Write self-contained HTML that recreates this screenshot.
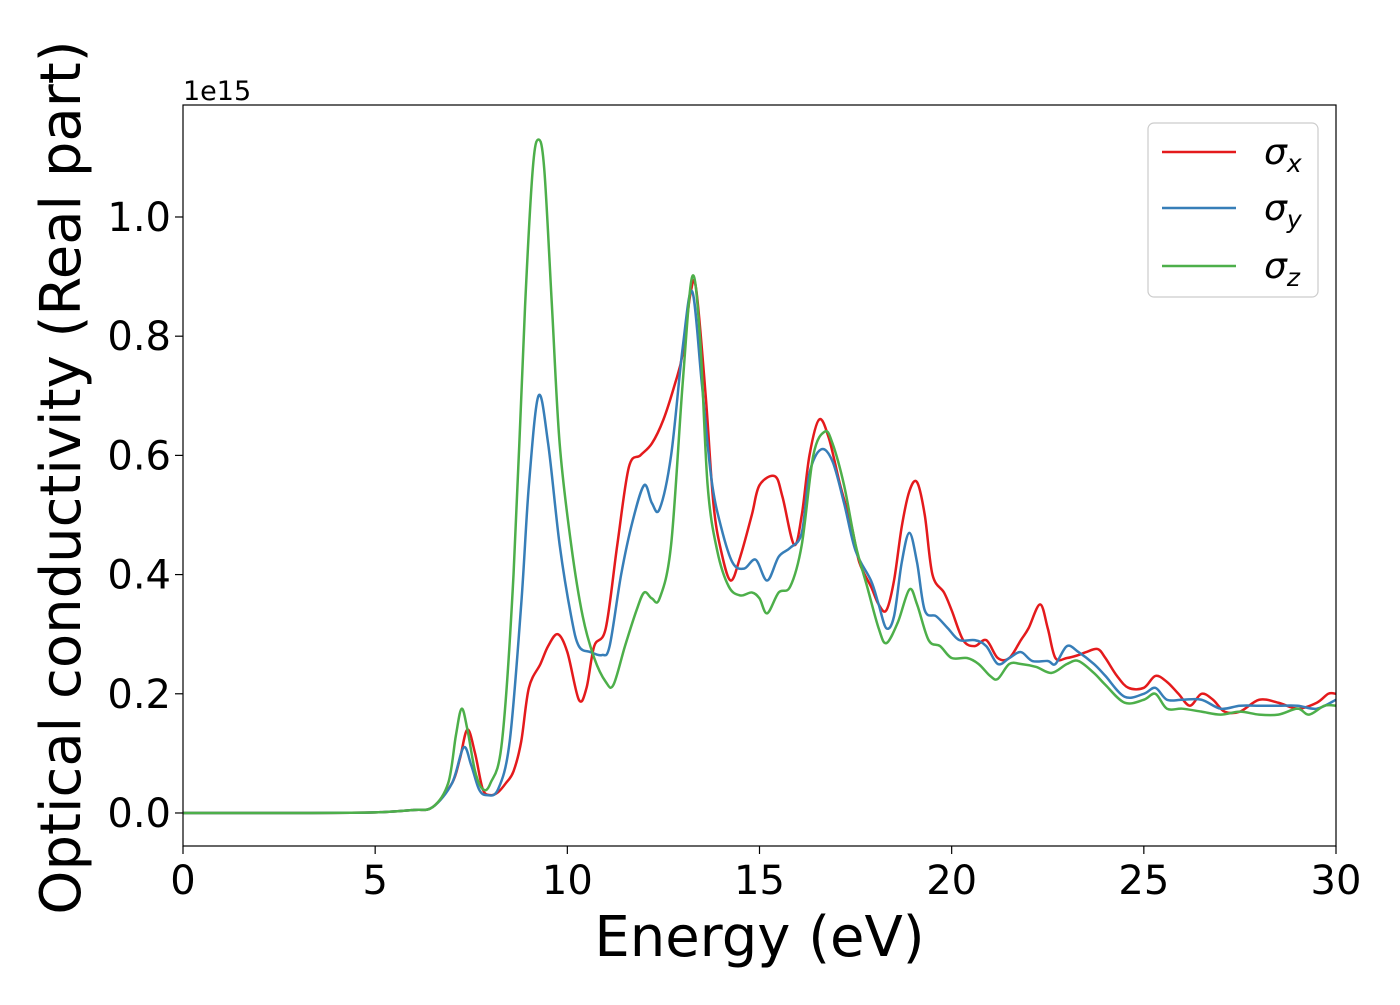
<!DOCTYPE html>
<html><head><meta charset="utf-8"><style>
body{margin:0;background:#fff;}
svg text{font-family:"DejaVu Sans","Liberation Sans",sans-serif;fill:#000;}
</style></head><body>
<svg id="chart" width="1400" height="1000" xmlns="http://www.w3.org/2000/svg">
<rect width="1400" height="1000" fill="#fff"/>
<g id="plot"></g>
</svg>
<script>
const xTicks=[0,5,10,15,20,25,30];
const yTicks=[0,0.2,0.4,0.6,0.8,1.0];
const yTickLabels=["0.0","0.2","0.4","0.6","0.8","1.0"];
const seriesNames=["σ","σ","σ"];
const sigmaX=[[0,0],[3,0],[5,0.001],[6,0.005],[6.5,0.01],[7.0,0.05],[7.2,0.09],[7.4,0.14],[7.6,0.10],[7.8,0.04],[8.0,0.03],[8.2,0.035],[8.4,0.05],[8.6,0.07],[8.8,0.12],[9.0,0.21],[9.3,0.25],[9.5,0.28],[9.75,0.30],[10.0,0.27],[10.3,0.19],[10.5,0.21],[10.7,0.28],[11.0,0.31],[11.3,0.45],[11.6,0.58],[11.9,0.60],[12.2,0.62],[12.5,0.66],[12.8,0.72],[13.0,0.77],[13.2,0.87],[13.35,0.88],[13.6,0.70],[13.8,0.52],[14.0,0.44],[14.25,0.39],[14.5,0.43],[14.8,0.50],[15.0,0.55],[15.4,0.565],[15.6,0.53],[15.9,0.45],[16.1,0.50],[16.3,0.60],[16.55,0.66],[16.8,0.63],[17.1,0.55],[17.4,0.48],[17.6,0.42],[17.9,0.38],[18.1,0.35],[18.3,0.34],[18.5,0.39],[18.7,0.48],[18.9,0.54],[19.1,0.555],[19.3,0.50],[19.5,0.40],[19.8,0.37],[20.0,0.34],[20.3,0.29],[20.6,0.28],[20.9,0.29],[21.2,0.26],[21.5,0.26],[21.8,0.29],[22.0,0.31],[22.3,0.35],[22.5,0.31],[22.7,0.26],[23.0,0.26],[23.3,0.265],[23.5,0.27],[23.8,0.275],[24.0,0.26],[24.3,0.23],[24.6,0.21],[25.0,0.21],[25.3,0.23],[25.6,0.22],[25.9,0.2],[26.2,0.18],[26.5,0.2],[26.8,0.19],[27.1,0.17],[27.5,0.17],[28.0,0.19],[28.5,0.185],[29.0,0.175],[29.5,0.185],[29.8,0.2],[30,0.2]];
const sigmaY=[[0,0],[3,0],[5,0.001],[6,0.005],[6.5,0.01],[7.0,0.05],[7.3,0.11],[7.5,0.08],[7.7,0.04],[7.9,0.03],[8.2,0.04],[8.5,0.12],[8.8,0.35],[9.0,0.55],[9.25,0.70],[9.5,0.62],[9.8,0.45],[10.1,0.33],[10.3,0.28],[10.6,0.27],[10.9,0.265],[11.1,0.28],[11.4,0.40],[11.7,0.49],[12.0,0.55],[12.2,0.52],[12.4,0.51],[12.7,0.60],[13.0,0.78],[13.25,0.875],[13.5,0.72],[13.75,0.56],[14.0,0.48],[14.3,0.42],[14.6,0.41],[14.9,0.425],[15.2,0.39],[15.5,0.43],[15.8,0.445],[16.1,0.47],[16.3,0.57],[16.6,0.61],[16.9,0.59],[17.2,0.52],[17.5,0.44],[17.9,0.39],[18.1,0.35],[18.3,0.31],[18.5,0.33],[18.7,0.42],[18.9,0.47],[19.1,0.42],[19.3,0.34],[19.6,0.33],[19.9,0.31],[20.2,0.29],[20.6,0.29],[20.9,0.28],[21.2,0.25],[21.5,0.26],[21.8,0.27],[22.1,0.255],[22.5,0.255],[22.7,0.25],[23.0,0.28],[23.3,0.27],[23.7,0.25],[24.0,0.23],[24.5,0.195],[25.0,0.2],[25.3,0.21],[25.6,0.19],[26.0,0.19],[26.5,0.19],[27.0,0.175],[27.5,0.18],[28.0,0.18],[28.5,0.18],[29.0,0.18],[29.5,0.175],[30,0.19]];
const sigmaZ=[[0,0],[3,0],[5,0.001],[6,0.005],[6.5,0.01],[6.9,0.05],[7.1,0.13],[7.25,0.175],[7.4,0.14],[7.6,0.07],[7.8,0.04],[8.0,0.05],[8.3,0.12],[8.6,0.40],[8.9,0.85],[9.1,1.08],[9.25,1.13],[9.4,1.08],[9.6,0.85],[9.8,0.62],[10.1,0.45],[10.4,0.33],[10.7,0.26],[11.0,0.22],[11.2,0.215],[11.5,0.28],[11.8,0.34],[12.0,0.37],[12.2,0.36],[12.4,0.36],[12.7,0.45],[13.0,0.72],[13.25,0.90],[13.45,0.80],[13.65,0.55],[13.9,0.44],[14.2,0.38],[14.5,0.365],[14.8,0.37],[15.0,0.36],[15.2,0.335],[15.5,0.37],[15.8,0.38],[16.1,0.45],[16.4,0.60],[16.7,0.64],[16.9,0.62],[17.2,0.55],[17.5,0.45],[17.8,0.38],[18.1,0.31],[18.3,0.285],[18.6,0.32],[18.9,0.375],[19.1,0.35],[19.4,0.29],[19.7,0.28],[20.0,0.26],[20.4,0.26],[20.7,0.25],[21.0,0.23],[21.2,0.225],[21.5,0.25],[21.8,0.25],[22.2,0.245],[22.6,0.235],[23.0,0.25],[23.3,0.255],[23.7,0.235],[24.0,0.215],[24.5,0.185],[25.0,0.19],[25.3,0.2],[25.6,0.175],[26.0,0.175],[26.5,0.17],[27.0,0.165],[27.5,0.17],[28.0,0.165],[28.5,0.165],[29.0,0.175],[29.3,0.165],[29.7,0.18],[30,0.18]];
const allSeries=[sigmaX,sigmaY,sigmaZ];
const colors=["#e41a1c","#377eb8","#4daf4a"];
const subs=["x","y","z"];

const L=183,R=1336,T=105,B=846;
const xmin=0,xmax=30,ymin=-0.0554,ymax=1.1879;
const sx=v=>L+(v-xmin)/(xmax-xmin)*(R-L);
const sy=v=>B-(v-ymin)/(ymax-ymin)*(B-T);
const NS="http://www.w3.org/2000/svg";
const g=document.getElementById('plot');
function mk(tag,attrs,txt){const e=document.createElementNS(NS,tag);for(const k in attrs)e.setAttribute(k,attrs[k]);if(txt!==undefined)e.textContent=txt;g.appendChild(e);return e;}
function pathFor(pts){
  const p=pts.map(d=>[sx(d[0]),sy(d[1])]);
  let s="M"+p[0][0]+","+p[0][1];
  for(let i=0;i<p.length-1;i++){
    const p0=p[Math.max(0,i-1)],p1=p[i],p2=p[i+1],p3=p[Math.min(p.length-1,i+2)];
    const c1=[p1[0]+(p2[0]-p0[0])/6,p1[1]+(p2[1]-p0[1])/6];
    const c2=[p2[0]-(p3[0]-p1[0])/6,p2[1]-(p3[1]-p1[1])/6];
    s+=" C"+c1[0]+","+c1[1]+" "+c2[0]+","+c2[1]+" "+p2[0]+","+p2[1];
  }
  return s;
}
const clip=mk('clipPath',{id:'pc'});
const cr=document.createElementNS(NS,'rect');
cr.setAttribute('x',L);cr.setAttribute('y',T);cr.setAttribute('width',R-L);cr.setAttribute('height',B-T);
clip.appendChild(cr);
allSeries.forEach((s,i)=>{
  const e=mk('path',{d:pathFor(s),fill:'none',stroke:colors[i],'stroke-width':2.5,'clip-path':'url(#pc)'});
  
  
});
const fr=mk('rect',{x:L,y:T,width:R-L,height:B-T,fill:'none',stroke:'#000','stroke-width':1.2});


xTicks.forEach(v=>{
  mk('line',{x1:sx(v),x2:sx(v),y1:B,y2:B+8,stroke:'#000','stroke-width':1.2});
  const tl=mk('text',{x:sx(v),y:B+48,'text-anchor':'middle','font-size':40},String(v));
  
  
});
yTicks.forEach((v,i)=>{
  mk('line',{x1:L-8,x2:L,y1:sy(v),y2:sy(v),stroke:'#000','stroke-width':1.2});
  const tl=mk('text',{x:L-12,y:sy(v)+14,'text-anchor':'end','font-size':40},yTickLabels[i]);
  
  
});
const off=mk('text',{x:L,y:100,'font-size':27},'1e15');


const xt=mk('text',{x:(L+R)/2,y:956,'text-anchor':'middle','font-size':56},'Energy (eV)');


const yt=mk('text',{x:0,y:0,'text-anchor':'middle','font-size':56,transform:'translate(80,'+((T+B)/2+2)+') rotate(-90)'},'Optical conductivity (Real part)');


const lg=mk('rect',{x:1148,y:123,width:170,height:174,rx:6,fill:'#fff','fill-opacity':0.8,stroke:'#ccc','stroke-width':1.2});


const ly=[152,208,266];
seriesNames.forEach((n,i)=>{
  const l=mk('line',{x1:1162,x2:1236,y1:ly[i],y2:ly[i],stroke:colors[i],'stroke-width':2.5});
  
  
  const tx=mk('text',{x:1264,y:ly[i]+12,'font-size':36,'font-style':'italic'});
  
  
  const a=document.createElementNS(NS,'tspan');a.textContent=n;tx.appendChild(a);
  const b=document.createElementNS(NS,'tspan');b.setAttribute('font-size','25');b.setAttribute('dy','8');b.textContent=subs[i];tx.appendChild(b);
});
</script>
</body></html>
